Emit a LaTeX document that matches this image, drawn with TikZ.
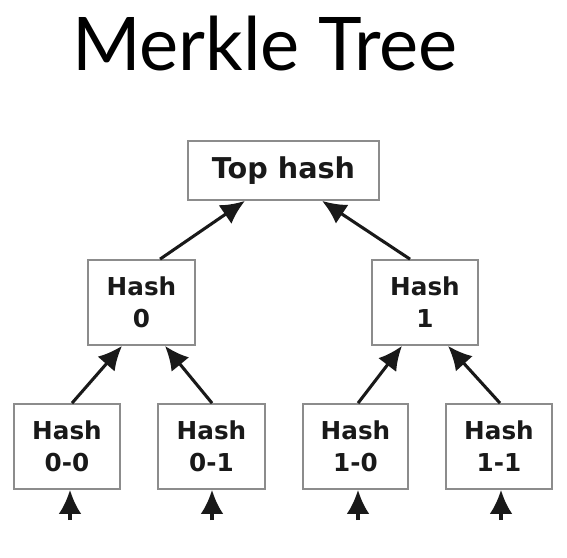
\documentclass[tikz,border=0pt]{standalone}
\usepackage{fontspec}
\setmainfont{DejaVu Sans}
\newfontfamily\titlefont{Lato}
\usetikzlibrary{arrows.meta}
\begin{document}
\begin{tikzpicture}[x=0.75pt,y=-0.75pt,
  box/.style={draw=black!45,line width=1.3pt,fill=white,inner sep=0pt,align=center,
    font=\fontsize{18.5}{24}\selectfont\bfseries,text=black!90},
  arr/.style={line width=2.3pt,-{Latex[length=18pt,width=17pt]},black!90}]
\useasboundingbox (0,0) rectangle (567,557);
\node[anchor=base,font=\titlefont\fontsize{55.5}{60}\selectfont] (title) at (265,70) {Merkle Tree};
\node[box,minimum width=191*0.75pt,minimum height=59*0.75pt,font=\fontsize{21.5}{24}\selectfont\bfseries] (top) at (283.5,170.5) {Top hash};
\node[box,minimum width=107*0.75pt,minimum height=85*0.75pt] (h0) at (141.5,302.5) {Hash\\0};
\node[box,minimum width=106*0.75pt,minimum height=85*0.75pt] (h1) at (425,302.5) {Hash\\1};
\node[box,minimum width=106*0.75pt,minimum height=85*0.75pt] (h00) at (67,446.5) {Hash\\0-0};
\node[box,minimum width=107*0.75pt,minimum height=85*0.75pt] (h01) at (211.5,446.5) {Hash\\0-1};
\node[box,minimum width=105*0.75pt,minimum height=85*0.75pt] (h10) at (355.5,446.5) {Hash\\1-0};
\node[box,minimum width=106*0.75pt,minimum height=85*0.75pt] (h11) at (499,446.5) {Hash\\1-1};
\coordinate (l00) at (70,520);
\coordinate (l01) at (212,520);
\coordinate (l10) at (358,520);
\coordinate (l11) at (501,520);
\draw[arr] ([xshift=13.9pt]h0.north) -- ([xshift=-28.9pt]top.south);
\draw[arr] ([xshift=-11.25pt]h1.north) -- ([xshift=28.9pt]top.south);
\draw[arr] ([xshift=3.75pt]h00.north) -- ([xshift=-14.6pt]h0.south);
\draw[arr] ([xshift=0.4pt]h01.north) -- ([xshift=17.6pt]h0.south);
\draw[arr] ([xshift=1.9pt]h10.north) -- ([xshift=-17.25pt]h1.south);
\draw[arr] ([xshift=0.75pt]h11.north) -- ([xshift=17.25pt]h1.south);
\draw[arr] (l00) -- (l00 |- h00.south);
\draw[arr] (l01) -- (l01 |- h01.south);
\draw[arr] (l10) -- (l10 |- h10.south);
\draw[arr] (l11) -- (l11 |- h11.south);
\end{tikzpicture}
\end{document}
